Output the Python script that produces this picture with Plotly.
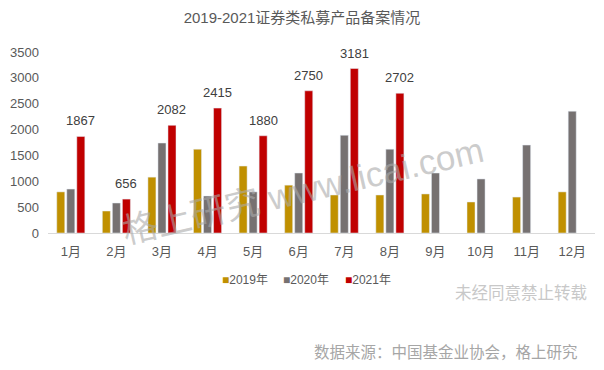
import plotly.graph_objects as go

months = ["1月", "2月", "3月", "4月", "5月", "6月", "7月", "8月", "9月", "10月", "11月", "12月"]
y2019 = [795, 425, 1080, 1620, 1295, 925, 735, 735, 755, 600, 695, 795]
y2020 = [850, 580, 1740, 715, 795, 1160, 1890, 1620, 1160, 1045, 1700, 2355]
y2021 = [1867, 656, 2082, 2415, 1880, 2750, 3181, 2702, None, None, None, None]
series_names = ["2019年", "2020年", "2021年"]
colors = ["#C09000", "#767171", "#C00000"]

FONT = "Liberation Sans, Arial, Noto Sans CJK SC, sans-serif"

# page body has an 8px default margin; compensate
OFF = 8
W, H = 604 - OFF, 370 - OFF
PL, PR, PT, PB = 48, 595, 52, 233  # plot area in screen px


def px_x(sx):
    return (sx - PL) / (PR - PL)


def px_y(sy):
    return (PB - sy) / (PB - PT)


fig = go.Figure()
for name, vals, col in zip(series_names, [y2019, y2020, y2021], colors):
    fig.add_bar(x=months, y=vals, name=name, marker_color=col, showlegend=False)

# value labels above 2021 bars
for m, v in zip(months, y2021):
    if v is not None:
        fig.add_annotation(x=m, y=v, text=str(v), showarrow=False, xshift=10,
                           yanchor="bottom", yshift=6,
                           font=dict(size=13, color="#404040", family=FONT))

# legend entries (one legend per item for Excel-like compact spacing)
legend_x = [182, 243, 305]
for i, (name, col) in enumerate(zip(series_names, colors)):
    lg = "legend" if i == 0 else f"legend{i + 1}"
    fig.add_scatter(x=[None], y=[None], mode="markers", legend=lg,
                    name=f'<span style="color:{col}">■</span>{name}',
                    marker=dict(symbol="square", size=1, color="rgba(0,0,0,0)"),
                    showlegend=True)
    fig.update_layout({lg: dict(orientation="h", x=px_x(legend_x[i]), xanchor="left",
                                y=px_y(279), yanchor="middle", itemwidth=30,
                                bgcolor="rgba(0,0,0,0)",
                                font=dict(size=12, color="#595959", family=FONT))})

fig.update_layout(
    width=W, height=H,
    margin=dict(l=PL - OFF, r=W - (PR - OFF), t=PT - OFF, b=H - (PB - OFF), autoexpand=False),
    paper_bgcolor="white", plot_bgcolor="white",
    barmode="group", bargap=0.34, bargroupgap=0.2,
    font=dict(family=FONT, color="#595959", size=12),
    title=dict(text="2019-2021证券类私募产品备案情况", x=(302 - OFF) / W, xanchor="center",
               y=1 - (18 - OFF) / H, yanchor="middle",
               font=dict(size=15, color="#595959", family=FONT)),
    showlegend=True,
    xaxis=dict(showgrid=False, showline=True, linecolor="#D9D9D9", linewidth=1,
               ticks="", tickfont=dict(size=13, color="#595959"), automargin=False,
               ticklabelstandoff=6),
    yaxis=dict(range=[0, 3500], dtick=500, showgrid=False, zeroline=False,
               showline=False, ticks="", tickfont=dict(size=13, color="#595959"),
               automargin=False, ticklabelstandoff=8),
)

fig.add_annotation(text="格上研究 www.licai.com", xref="paper", yref="paper",
                   x=px_x(302), y=px_y(190), xanchor="center", yanchor="middle",
                   showarrow=False,
                   textangle=-13, font=dict(size=35, color="rgba(170,170,170,0.6)", family=FONT))
fig.add_annotation(text="未经同意禁止转载", xref="paper", yref="paper",
                   x=px_x(589), xanchor="right", y=px_y(293), yanchor="middle",
                   showarrow=False, font=dict(size=16.5, color="#C8C8C8", family=FONT))
fig.add_annotation(text="数据来源：中国基金业协会，格上研究", xref="paper", yref="paper",
                   x=px_x(580), xanchor="right", y=px_y(352), yanchor="middle",
                   showarrow=False, font=dict(size=15.5, color="#A6A6A6", family=FONT))

fig.write_html("out.html")
